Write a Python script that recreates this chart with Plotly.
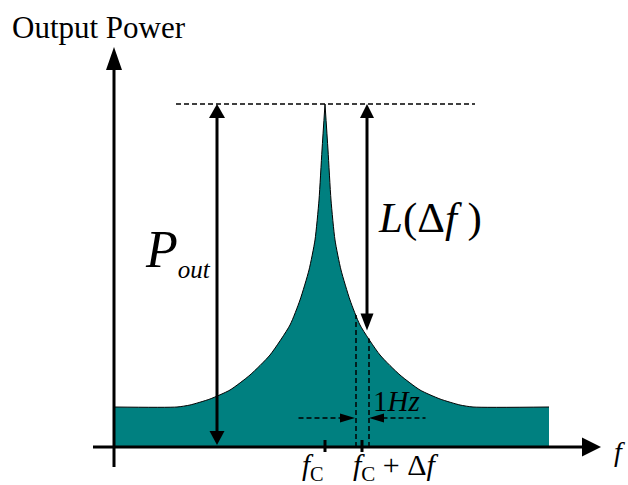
import numpy as np
import plotly.graph_objects as go

# Oscillator output spectrum: offset from the carrier and power above the axis
offset_right = [0, 3, 6, 10, 16, 25, 35, 55, 75, 95, 115, 135, 148]
power_right = [343, 297, 247, 207, 177, 147, 122, 92, 72, 57, 48, 42, 40]
band_left = -211      # left edge of the drawn band
band_right = 224      # right edge of the drawn band
noise_floor = 40

F_C = 0               # carrier frequency
DELTA_F = 37          # offset at which L(Δf) is read
HZ_HALF = 6.5         # half of the 1 Hz measurement bandwidth
L_OFFSET = 42         # position of the L(Δf) arrow
POUT_X = -108         # position of the P_out arrow

TEAL = "#008080"
FONT = "Times New Roman, Liberation Serif, Times, serif"

peak_power = power_right[0]


def spectrum(f):
    return float(np.interp(abs(f), offset_right, power_right))


fig = go.Figure()

# left and right skirts drawn separately so the carrier keeps a sharp tip
left_x = [band_left] + [-o for o in offset_right[::-1]]
left_y = [noise_floor] + power_right[::-1]
right_x = offset_right + [band_right]
right_y = power_right + [noise_floor]
for xs, ys in ((left_x, left_y), (right_x, right_y)):
    fig.add_trace(go.Scatter(
        x=xs, y=ys, mode="lines", fill="tozeroy", fillcolor=TEAL,
        line=dict(color="black", width=1, shape="spline", smoothing=0.6),
        hoverinfo="skip", showlegend=False))

shapes = []


def line(x0, y0, x1, y1, width=3, dash=None):
    d = dict(type="line", xref="x", yref="y", x0=x0, y0=y0, x1=x1, y1=y1,
             line=dict(color="black", width=width))
    if dash:
        d["line"]["dash"] = dash
    shapes.append(d)


def head(xt, yt, direction, length, half):
    # filled triangular arrowhead with its tip at (xt, yt)
    if direction == "up":
        pts = [(xt, yt), (xt - half, yt - length), (xt + half, yt - length)]
    elif direction == "down":
        pts = [(xt, yt), (xt - half, yt + length), (xt + half, yt + length)]
    elif direction == "right":
        pts = [(xt, yt), (xt - length, yt - half), (xt - length, yt + half)]
    else:
        pts = [(xt, yt), (xt + length, yt - half), (xt + length, yt + half)]
    path = "M " + " L ".join(f"{a},{b}" for a, b in pts) + " Z"
    shapes.append(dict(type="path", xref="x", yref="y", path=path,
                       fillcolor="black", line=dict(width=0)))


# axes
y_axis_x = band_left
line(y_axis_x, -20, y_axis_x, 380)
head(y_axis_x, 400, "up", 23, 8)
line(-232, 0, 260, 0)
head(276, 0, "right", 19, 9.5)

# carrier and offset ticks
for fx in (F_C, DELTA_F):
    line(fx, -5, fx, 7, width=3)

# reference level at the carrier peak
line(-149, peak_power, 150, peak_power, width=1.5, dash="5px,3px")

# P_out arrow
line(POUT_X, 10, POUT_X, peak_power - 10)
head(POUT_X, peak_power, "up", 14, 8)
head(POUT_X, 2, "down", 14, 7.5)

# L(Δf) arrow
l_bottom = spectrum(L_OFFSET) + 5
line(L_OFFSET, l_bottom + 10, L_OFFSET, peak_power - 10)
head(L_OFFSET, peak_power, "up", 14, 7)
head(L_OFFSET, l_bottom, "down", 17, 6.5)

# 1 Hz bandwidth window
for fx in (DELTA_F - HZ_HALF + 0.5, DELTA_F + HZ_HALF + 0.5):
    line(fx, 0, fx, spectrum(fx), width=1.5, dash="5px,3px")
bw_y = 29
line(DELTA_F - HZ_HALF - 57, bw_y, DELTA_F - HZ_HALF - 14, bw_y, width=1.5, dash="5px,3px")
head(DELTA_F - HZ_HALF - 0.5, bw_y, "right", 15, 4.5)
line(DELTA_F + HZ_HALF + 14, bw_y, DELTA_F + HZ_HALF + 57, bw_y, width=1.5, dash="5px,3px")
head(DELTA_F + HZ_HALF + 0.5, bw_y, "left", 15, 4.5)

annotations = []


def text(x, y, s, size, anchor="left"):
    annotations.append(dict(x=x, y=y, xref="x", yref="y", text=s, showarrow=False,
                            xanchor=anchor, yanchor="middle",
                            font=dict(family=FONT, size=size, color="black")))


text(-315, 447 - 27, "Output Power", 31)
text(-182, 447 - 252, "<i>P</i><sub><i><span style='font-size:25px'>out</span></i></sub>", 52)
text(51, 447 - 218, "<i>L</i>(Δ<i>f</i> )", 43)
text(46, 447 - 401, "1<i>Hz</i>", 29)
text(-25, 447 - 467, "<i>f</i><sub>C</sub>", 29)
text(26, 447 - 467, "<i>f</i><sub>C</sub> + Δ<i>f</i>", 30)
text(287, 447 - 451, "<i>f</i>", 28)

fig.update_layout(
    width=628, height=485, autosize=False,
    margin=dict(l=0, r=0, t=0, b=0),
    paper_bgcolor="white", plot_bgcolor="white",
    xaxis=dict(range=[-325, 303], visible=False, fixedrange=True),
    yaxis=dict(range=[-38, 447], visible=False, fixedrange=True),
    shapes=shapes, annotations=annotations,
)

fig.write_html("out.html")
